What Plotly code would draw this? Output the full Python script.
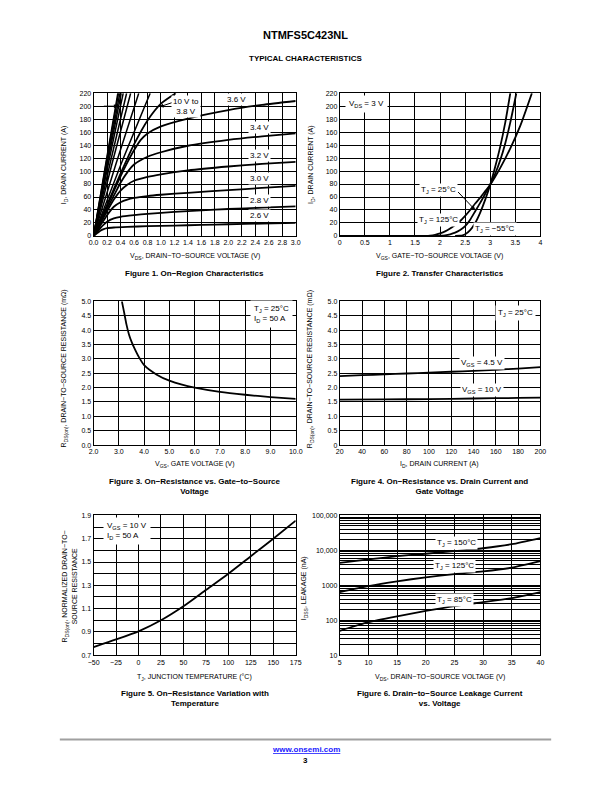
import math
import plotly.graph_objects as go

W, H = 612, 792
FONT = "Liberation Sans, Arial, Helvetica, sans-serif"

# ---------------- Figure 1: On-Region Characteristics ----------------
f1_vds_26 = [0, 0.05, 0.1, 0.15, 0.2, 0.3, 0.5, 0.8, 1.2, 1.6, 2.0, 2.5, 3.0]
f1_id_26 = [0, 4, 8, 10.5, 12, 13, 14, 15, 16, 17, 18, 19, 20]
f1_vds_28 = [0, 0.05, 0.1, 0.15, 0.2, 0.3, 0.4, 0.6, 0.8, 1.2, 1.6, 2.0, 2.5, 3.0]
f1_id_28 = [0, 6, 12, 17.5, 22, 27, 29.5, 32, 34, 37, 39.5, 41.5, 43.5, 45.5]
f1_vds_30 = [0, 0.05, 0.1, 0.2, 0.3, 0.4, 0.5, 0.6, 0.8, 1.0, 1.4, 2.0, 2.5, 3.0]
f1_id_30 = [0, 8, 16, 32, 45, 52, 56, 58.5, 61.5, 63.5, 66.5, 70.5, 74, 77]
f1_vds_32 = [0, 0.05, 0.1, 0.2, 0.3, 0.4, 0.5, 0.6, 0.8, 1.0, 1.4, 2.0, 2.5, 3.0]
f1_id_32 = [0, 9, 19, 38, 56, 70, 79, 85, 91, 95, 101, 107, 111, 114]
f1_vds_34 = [0, 0.1, 0.2, 0.3, 0.4, 0.5, 0.6, 0.8, 1.0, 1.4, 2.0, 2.5, 3.0]
f1_id_34 = [0, 21, 42, 62, 82, 98, 110, 122, 129, 139, 148, 153.5, 158]
f1_vds_36 = [0, 0.1, 0.2, 0.3, 0.4, 0.5, 0.6, 0.7, 0.8, 1.0, 1.4, 2.0, 2.5, 3.0]
f1_id_36 = [0, 23, 46, 69, 92, 113, 132, 148, 158, 169, 181, 194, 202, 208]
f1_vds_38 = [0, 0.1, 0.2, 0.4, 0.6, 0.8, 1.0, 1.22]
f1_id_38 = [0, 24, 48, 96, 141, 178, 204, 220]
# steep curves: 4.0 V ... 10 V
f1_steep_vds = [
    [0, 0.42, 0.84],
    [0, 0.335, 0.67],
    [0, 0.275, 0.55],
    [0, 0.245, 0.49],
    [0, 0.22, 0.44],
    [0, 0.205, 0.41],
    [0, 0.195, 0.39],
    [0, 0.185, 0.37],
    [0, 0.18, 0.36],
]
f1_steep_id = [
    [0, 114, 220],
    [0, 112, 220],
    [0, 112, 220],
    [0, 112, 220],
    [0, 112, 220],
    [0, 112, 220],
    [0, 111, 220],
    [0, 111, 220],
    [0, 111, 220],
]
f1_label_text = ["3.6 V", "3.4 V", "3.2 V", "3.0 V", "2.8 V", "2.6 V"]
f1_label_x = [2.12, 2.46, 2.46, 2.46, 2.46, 2.46]
f1_label_y = [210, 167, 124, 88, 54, 31]

# ---------------- Figure 2: Transfer Characteristics ----------------
f2_vgs_125 = [1.5, 1.7, 1.8, 1.9, 2.0, 2.1, 2.2, 2.3, 2.4, 2.5, 2.6, 2.7, 2.8, 2.9, 3.0, 3.2, 3.4, 3.6, 3.83]
f2_id_125 = [0, 0.2, 0.6, 1.8, 4, 7, 11.5, 17, 23, 31, 40, 50, 59, 69, 79, 105, 135, 170, 220]
f2_vgs_25 = [1.9, 2.0, 2.1, 2.2, 2.3, 2.4, 2.5, 2.6, 2.7, 2.8, 2.9, 3.0, 3.1, 3.2, 3.3, 3.4, 3.52]
f2_id_25 = [0, 0.3, 1, 2.5, 5, 9, 15, 25, 38, 51, 65, 79, 96, 117, 143, 175, 220]
f2_vgs_m55 = [2.3, 2.4, 2.45, 2.5, 2.6, 2.7, 2.8, 2.9, 3.0, 3.1, 3.2, 3.3, 3.4]
f2_id_m55 = [0, 0.3, 1, 2.5, 9, 20, 36, 56, 79, 107, 138, 175, 220]
f2_vgs_flat = [0, 1.5]
f2_id_flat = [0, 0]

# ---------------- Figure 3: R_DS(on) vs V_GS ----------------
f3_vgs = [3.12, 3.2, 3.3, 3.4, 3.5, 3.6, 3.8, 4.0, 4.5, 5.0, 5.5, 6.0, 7.0, 8.0, 9.0, 10.0]
f3_rds = [5.0, 4.65, 4.2, 3.85, 3.6, 3.4, 3.05, 2.78, 2.45, 2.24, 2.1, 2.0, 1.85, 1.75, 1.67, 1.61]

# ---------------- Figure 4: R_DS(on) vs I_D ----------------
f4_id_45 = [20, 40, 60, 80, 100, 120, 140, 160, 180, 200]
f4_rds_45 = [2.40, 2.43, 2.46, 2.49, 2.52, 2.55, 2.58, 2.62, 2.66, 2.71]
f4_id_10 = [20, 60, 100, 140, 180, 200]
f4_rds_10 = [1.58, 1.59, 1.60, 1.62, 1.64, 1.65]
f4_yticks = [0, 0.5, 1.0, 1.5, 2.0, 2.5, 3.0, 3.5, 4.0, 4.5, 5.0]
f4_yticktext = ["0", "0.5", "1.0", "1.5", "2.0", "2.5", "3.0", "3.5", "4.0", "4.5", "5.0"]

# ---------------- Figure 5: normalized R_DS(on) vs T_J ----------------
f5_tj = [-50, -25, 0, 25, 50, 75, 100, 125, 150, 175]
f5_rn = [0.77, 0.835, 0.905, 1.0, 1.12, 1.26, 1.40, 1.55, 1.70, 1.855]
f5_yticks = [0.7, 0.9, 1.1, 1.3, 1.5, 1.7, 1.9]

# ---------------- Figure 6: leakage vs V_DS ----------------
f6_vds = [5, 10, 15, 20, 25, 30, 35, 40]
f6_i150 = [4400, 5500, 6800, 8000, 9500, 11500, 15000, 22500]
f6_i125 = [640, 950, 1300, 1700, 2100, 2500, 3200, 4900]
f6_i85 = [50, 88, 130, 185, 255, 330, 430, 640]
f6_yticks = [10, 100, 1000, 10000, 100000]
f6_yticktext = ["10", "100", "1000", "10,000", "100,000"]


def px(x):
    return x / W


def py(y):
    return 1 - y / H


def sub(s, size=5, shift=1.6):
    # subscript drawn with an SVG baseline shift
    return '<span style="font-size:%gpx;baseline-shift:-%gpx">%s</span>' % (size, shift, s)


def lsub(s):
    return sub(s, 5.6, 2)


fig = go.Figure()


def line(x, y, xa, ya, w=1.8):
    fig.add_trace(go.Scatter(x=x, y=y, mode="lines", xaxis=xa, yaxis=ya,
                             line=dict(color="black", width=w, shape="spline", smoothing=0.6),
                             showlegend=False, hoverinfo="skip"))


# Fig 1 traces
for xs, ys in [(f1_vds_26, f1_id_26), (f1_vds_28, f1_id_28), (f1_vds_30, f1_id_30),
               (f1_vds_32, f1_id_32), (f1_vds_34, f1_id_34), (f1_vds_36, f1_id_36),
               (f1_vds_38, f1_id_38)]:
    line(xs, ys, "x", "y")
for xs, ys in zip(f1_steep_vds, f1_steep_id):
    line(xs, ys, "x", "y", w=1.5)

# Fig 2
line(f2_vgs_flat, f2_id_flat, "x2", "y2")
line(f2_vgs_125, f2_id_125, "x2", "y2")
line(f2_vgs_25, f2_id_25, "x2", "y2")
line(f2_vgs_m55, f2_id_m55, "x2", "y2")

# Fig 3
line(f3_vgs, f3_rds, "x3", "y3")
# Fig 4
line(f4_id_45, f4_rds_45, "x4", "y4")
line(f4_id_10, f4_rds_10, "x4", "y4")
# Fig 5
line(f5_tj, f5_rn, "x5", "y5")
# Fig 6
line(f6_vds, f6_i150, "x6", "y6")
line(f6_vds, f6_i125, "x6", "y6")
line(f6_vds, f6_i85, "x6", "y6")

TICKF = dict(family=FONT, size=7, color="black")


def axis(dom, rng, anchor, **kw):
    d = dict(domain=dom, range=rng, anchor=anchor, showline=True, mirror=True,
             linecolor="black", linewidth=1, showgrid=True, gridcolor="black",
             gridwidth=0.8, zeroline=False, ticks="", tickfont=TICKF, tickangle=0,
             fixedrange=True)
    d.update(kw)
    return d


LX = [px(89.5), px(296)]
RX = [px(341), px(546)]
R1 = [py(234), py(90)]
R2 = [py(445), py(300)]
R3 = [py(657), py(516)]

MINOR = dict(showgrid=True, gridcolor="black", gridwidth=0.8, ticks="")

layout = dict(
    width=W, height=H, autosize=False,
    margin=dict(l=0, r=0, t=0, b=0),
    paper_bgcolor="white", plot_bgcolor="white",
    font=dict(family=FONT, color="black"),
    xaxis=axis(LX, [0, 3.0], "y", dtick=0.2, tick0=0, tickformat=".1f"),
    yaxis=axis(R1, [0, 220], "x", dtick=20, tick0=0),
    xaxis2=axis(RX, [0, 4], "y2", dtick=0.5, tick0=0),
    yaxis2=axis(R1, [0, 220], "x2", dtick=20, tick0=0),
    xaxis3=axis(LX, [2, 10], "y3", dtick=1, tick0=2, tickformat=".1f"),
    yaxis3=axis(R2, [0, 5], "x3", dtick=0.5, tick0=0, tickformat=".1f"),
    xaxis4=axis(RX, [20, 200], "y4", dtick=20, tick0=20),
    yaxis4=axis(R2, [0, 5], "x4", tickvals=f4_yticks, ticktext=f4_yticktext),
    xaxis5=axis(LX, [-50, 175], "y5", dtick=25, tick0=-50),
    yaxis5=axis(R3, [0.7, 1.9], "x5", tickvals=f5_yticks, tickformat=".1f",
                minor=dict(dtick=0.1, tick0=0.7, **MINOR)),
    xaxis6=axis(RX, [5, 40], "y6", dtick=5, tick0=5),
    yaxis6=axis(R3, [1, 5], "x6", type="log", tickvals=f6_yticks, ticktext=f6_yticktext,
                minor=dict(dtick="D1", **MINOR)),
)
fig.update_layout(**layout)

ann = []


def pa(text, x, y, size=7, bold=False, angle=0, xanchor="center", yanchor="middle", align="center", color="black"):
    if bold:
        text = "<b>" + text + "</b>"
    ann.append(dict(text=text, x=px(x), y=py(y), xref="paper", yref="paper", showarrow=False,
                    font=dict(family=FONT, size=size, color=color), textangle=angle,
                    xanchor=xanchor, yanchor=yanchor, align=align))


def da(text, x, y, xr, yr, size=8, xanchor="center", align="center", pad=1):
    ann.append(dict(text=text, x=x, y=y, xref=xr, yref=yr, showarrow=False,
                    font=dict(family=FONT, size=size, color="black"), bgcolor="white",
                    xanchor=xanchor, yanchor="middle", align=align, borderpad=pad))


# header
pa("NTMFS5C423NL", 306, 31, size=11, bold=True)
pa("TYPICAL CHARACTERISTICS", 306, 55, size=8, bold=True)

# axis titles
pa("V" + sub("DS") + ", DRAIN−TO−SOURCE VOLTAGE (V)", 193, 255)
pa("I" + sub("D") + ", DRAIN CURRENT (A)", 60, 162, angle=-90)
pa("V" + sub("GS") + ", GATE−TO−SOURCE VOLTAGE (V)", 443, 255)
pa("I" + sub("D") + ", DRAIN CURRENT (A)", 312, 162, angle=-90)
pa("V" + sub("GS") + ", GATE VOLTAGE (V)", 193, 465)
pa("R" + sub("DS(on)") + ", DRAIN−TO−SOURCE RESISTANCE (mΩ)", 60, 368, angle=-90)
pa("I" + sub("D") + ", DRAIN CURRENT (A)", 443, 465)
pa("R" + sub("DS(on)") + ", DRAIN−TO−SOURCE RESISTANCE (mΩ)", 311, 368, angle=-90)
pa("T" + sub("J") + ", JUNCTION TEMPERATURE (°C)", 193, 680)
pa("R" + sub("DS(on)") + ", NORMALIZED DRAIN−TO−", 61, 588, angle=-90)
pa("SOURCE RESISTANCE", 70, 588, angle=-90)
pa("V" + sub("DS") + ", DRAIN−TO−SOURCE VOLTAGE (V)", 443, 680)
pa("I" + sub("DSS") + ", LEAKAGE (nA)", 305, 590, angle=-90)

# captions
pa("Figure 1. On−Region Characteristics", 193, 272, size=8, bold=True)
pa("Figure 2. Transfer Characteristics", 443, 272, size=8, bold=True)
pa("Figure 3. On−Resistance vs. Gate−to−Source<br>Voltage", 193, 487, size=8, bold=True)
pa("Figure 4. On−Resistance vs. Drain Current and<br>Gate Voltage", 443, 487, size=8, bold=True)
pa("Figure 5. On−Resistance Variation with<br>Temperature", 193, 701, size=8, bold=True)
pa("Figure 6. Drain−to−Source Leakage Current<br>vs. Voltage", 443, 701, size=8, bold=True)

# footer
pa("<u>www.onsemi.com</u>", 306, 752, size=8, bold=True, color="#1a1aff")
pa("3", 306, 763, size=8, bold=True)

# Fig 1 labels
for t, x, y in zip(f1_label_text, f1_label_x, f1_label_y):
    da(t, x, y, "x", "y")
da("10 V to<br>3.8 V", 1.37, 200, "x", "y")
ann.append(dict(x=0.36, y=200, ax=0.13, ay=200, xref="x", yref="y", axref="x", ayref="y",
                text="", showarrow=True, arrowhead=2, arrowsize=0.8, arrowwidth=1, arrowcolor="black"))
ann.append(dict(x=0.98, y=199, ax=1.18, ay=206, xref="x", yref="y", axref="x", ayref="y",
                text="", showarrow=True, arrowhead=2, arrowsize=0.8, arrowwidth=1, arrowcolor="black"))

# Fig 2 labels
da("V" + lsub("DS") + " = 3 V", 0.53, 203, "x2", "y2", pad=3)
da("T" + lsub("J") + " = 25°C", 1.96, 71, "x2", "y2")
da("T" + lsub("J") + " = 125°C", 1.96, 24, "x2", "y2")
da("T" + lsub("J") + " = −55°C", 3.1, 11, "x2", "y2")
ann.append(dict(x=2.70, y=40, ax=2.33, ay=70, xref="x2", yref="y2", axref="x2", ayref="y2",
                text="", showarrow=True, arrowhead=2, arrowsize=0.8, arrowwidth=1, arrowcolor="black"))

# Fig 3 labels
da("T" + lsub("J") + " = 25°C<br>I" + lsub("D") + " = 50 A", 8.2, 4.55, "x3", "y3",
   xanchor="left", align="left", pad=3)
# Fig 4 labels
da("T" + lsub("J") + " = 25°C", 178, 4.6, "x4", "y4", pad=2)
da("V" + lsub("GS") + " = 4.5 V", 148, 2.87, "x4", "y4")
da("V" + lsub("GS") + " = 10 V", 148, 1.9, "x4", "y4")
# Fig 5 labels
da("V" + lsub("GS") + " = 10 V<br>I" + lsub("D") + " = 50 A", -40, 1.77, "x5", "y5",
   xanchor="left", align="left", pad=3)
# Fig 6 labels (log axis: annotation y given as log10 of value)
f6_label_text = ["150°C", "125°C", "85°C"]
f6_label_x = [25.4, 25.1, 25.1]
f6_label_y = [16500, 3600, 370]
for t, x, y in zip(f6_label_text, f6_label_x, f6_label_y):
    da("T" + lsub("J") + " = " + t, x, math.log10(y), "x6", "y6")

fig.update_layout(annotations=ann)
fig.add_shape(type="line", xref="paper", yref="paper", x0=px(55), x1=px(557), y0=py(742), y1=py(742),
              line=dict(color="#a0a0a0", width=2))

fig.write_html("out.html", config={"displayModeBar": False},
               post_script="document.body.style.margin='0';document.body.style.padding='0';"
                           "document.documentElement.style.overflow='hidden';")
